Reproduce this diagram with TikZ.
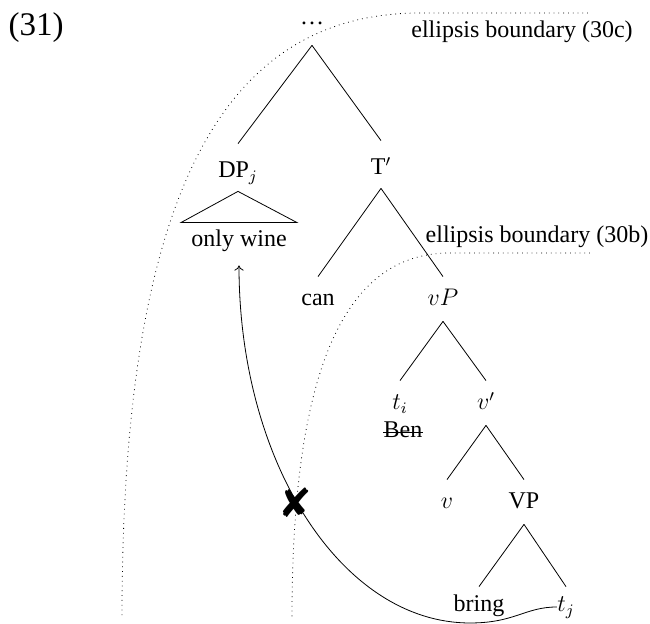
\documentclass[tikz,border=0pt]{standalone}
\usepackage{fontspec}
\usetikzlibrary{arrows.meta}
\setmainfont{Liberation Serif}
\newfontfamily\dejavu{DejaVu Sans}
\begin{document}
\begin{tikzpicture}[x=0.5pt,y=-0.5pt,
  lab/.style={anchor=base,inner sep=0pt,text height=14.5pt,text depth=7.5pt,font=\fontsize{12}{14.4}\selectfont},
  plain/.style={anchor=base,inner sep=0pt,font=\fontsize{12}{14.4}\selectfont},
  branch/.style={line width=0.4pt},
  boundary/.style={dotted,line width=0.4pt},
  movearrow/.style={-{To[length=2.6pt,width=4.6pt]},line width=0.4pt}]
\useasboundingbox (0,0) rectangle (650,624);
% labels
\node[anchor=base,inner sep=0pt,font=\fontsize{16.5}{19}\selectfont] (ex) at (36,36) {(31)};
\node[plain] (lab30c) at (522,38) {ellipsis boundary (30c)};
\node[plain] (lab30b) at (537,243) {ellipsis boundary (30b)};
% tree nodes
\node[lab,text depth=10pt] (root) at (312,25) {\dots};
\node[lab,text height=17pt] (dp) at (238,178) {DP$_j$};
\node[lab,text height=17pt,text depth=6.5pt] (tbar) at (381,175) {T$'$};
\node[lab,text height=12pt,text depth=9pt,inner xsep=5pt] (ow) at (239,247) {only wine};
\node[lab] (can) at (318,306) {can};
\node[lab] (vp) at (443,306) {$vP$};
\node[lab] (ti) at (400,410) {$t_i$};
\node[lab] (vbar) at (486,410) {$v'$};
\node[plain] (ben) at (403,438) {Ben};
\node[lab] (v) at (447,509) {$v$};
\node[lab] (VP) at (524,509) {VP};
\node[lab,text height=12.5pt] (bring) at (479,612) {bring};
\node[lab,text height=12.5pt] (tj) at (566,612) {$t_j$};
% strike through Ben
\draw[branch] ([yshift=2.6pt]ben.base west) -- ([yshift=2.6pt]ben.base east);
% branches
\draw[branch] (root.south) -- (dp.north);
\draw[branch] (root.south) -- (tbar.north);
\draw[branch] ([yshift=1pt]dp.south) -- (ow.north west) -- (ow.north east) -- cycle;
\draw[branch] (tbar.south) -- (can.north);
\draw[branch] (tbar.south) -- (vp.north);
\draw[branch] (vp.south) -- (ti.north);
\draw[branch] (vp.south) -- (vbar.north);
\draw[branch] (vbar.south) -- (v.north);
\draw[branch] (vbar.south) -- (VP.north);
\draw[branch] (VP.south) -- (bring.north);
\draw[branch] (VP.south) -- (tj.north);
% ellipsis boundaries
\coordinate (c30a) at (588,13);
\coordinate (c30b) at (420,13);
\coordinate (c30c) at (122,618);
\draw[boundary] (c30a) -- (c30b) .. controls (220,13) and (122,200) .. (c30c);
\coordinate (b30a) at (590,253);
\coordinate (b30b) at (450,253);
\coordinate (b30c) at (292,618);
\draw[boundary] (b30a) -- (b30b) .. controls (340,253) and (292,380) .. (b30c);
% movement arrow
\coordinate (low) at (470,623);
\draw[movearrow] (tj.west) .. controls (525,607) and (515,623) .. (low) .. controls (342,623) and (239,463) .. (ow.south);
% blocked mark
\node[inner sep=0pt,font=\dejavu\fontsize{20}{20}\selectfont] (cross) at (295,503) {✘};
\end{tikzpicture}
\end{document}
